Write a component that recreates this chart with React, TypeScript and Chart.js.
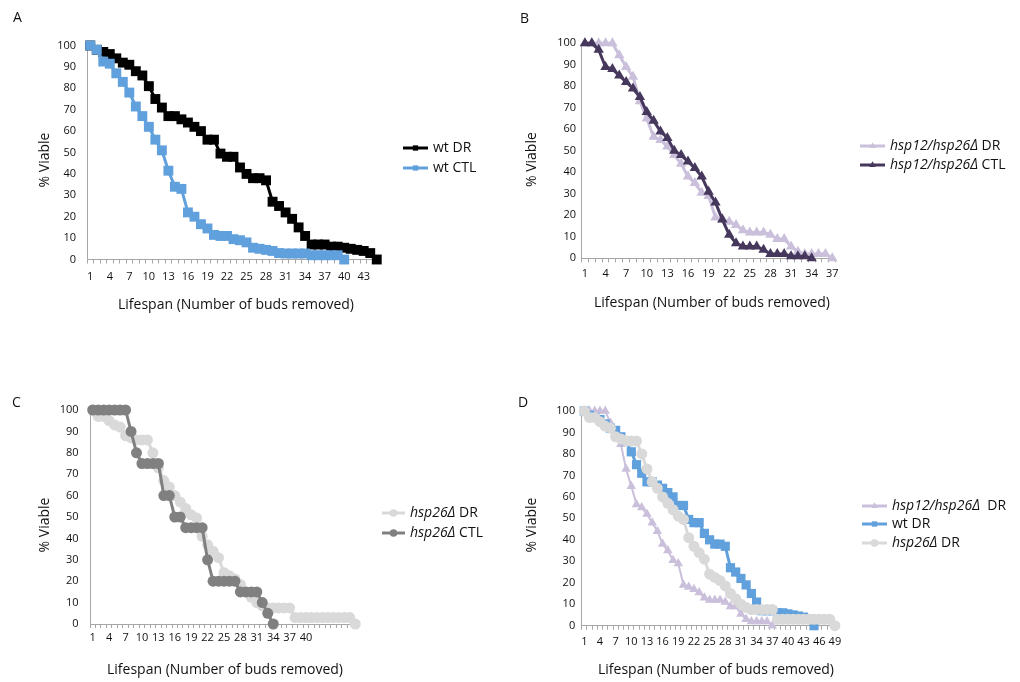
import React, { useEffect, useRef } from "react";
import { Chart, registerables } from "chart.js";

Chart.register(...registerables);

// ---------- data ----------
const budsA = ["1","2","3","4","5","6","7","8","9","10","11","12","13","14","15","16","17","18","19","20","21","22","23","24","25","26","27","28","29","30","31","32","33","34","35","36","37","38","39","40","41","42","43","44","45"];
const budsB = ["1","2","3","4","5","6","7","8","9","10","11","12","13","14","15","16","17","18","19","20","21","22","23","24","25","26","27","28","29","30","31","32","33","34","35","36","37"];
const budsCD = ["1","2","3","4","5","6","7","8","9","10","11","12","13","14","15","16","17","18","19","20","21","22","23","24","25","26","27","28","29","30","31","32","33","34","35","36","37","38","39","40","41","42","43","44","45","46","47","48","49"];

const ticksA = ["1","4","7","10","13","16","19","22","25","28","31","34","37","40","43"];
const ticksB = ["1","4","7","10","13","16","19","22","25","28","31","34","37"];
const ticksC = ["1","4","7","10","13","16","19","22","25","28","31","34","37","40"];
const ticksD = ["1","4","7","10","13","16","19","22","25","28","31","34","37","40","43","46","49"];

const wtDR = [100,98,97,96,94,92,91,88,86,81, 75,71,67,67,65.5,64,62,60,56,56, 49.5,48,48,43,40,38,38,37,27,25, 22,19,15,11,7,7,7,6,6,5.5, 5,4.5,4,3,0];
const wtCTL = [100,98,92.5,91.5,87,83,78,71.5,67,62, 56,51,41.5,34,33,22,20,16.5,14.5,11.5, 11,11,9.5,9,8,5.5,5,4.5,4,3, 2.8,2.8,2.8,2.8,2,2,2,2,2,0];
const hsp12DR = [100,100,100,100,100,94.5,89,84.5,73,65, 56.5,55,52,48,44,38,35,30.5,29,19, 18,17,15.5,13,12,12,12,11,9,9, 5.5,3,2,2,2,2,0];
const hsp12CTL = [100,100,97,89,88,85,82,79,75,68, 64,59,56,50,48,45,42,38,31,26, 18,11,7,5.5,5.5,5.5,4,2,2,2, 1,1,1,0];
const hsp26DR = [100,97,97,95,93,92,88,87,86,86, 86,80,73,67,64,60,57,54,51,49.5, 41,37,34,31,24,22.5,21,18.5,15,12.5, 10,8.5,7.5,7.5,7.5,7.5,7.5,3,3,3, 3,3,3,3,3,3,3,3,0];
const hsp26CTL = [100,100,100,100,100,100,100,90,80,75, 75,75,75,60,60,50,50,45,45,45, 45,30,20,20,20,20,20,15,15,15, 15,10,5,0];

// ---------- styles ----------
const FONT = '"Open Sans", sans-serif';
const TEXT = "#111111";
const AXIS = "#a6a6a6";
const BLACK = "#000000";
const BLUE = "#60a0dc";
const LAV = "#cbc0dc";
const PURPLE = "#46385c";
const LGRAY = "#d9d9d9";
const DGRAY = "#808080";
const X_TITLE = "Lifespan (Number of buds removed)";
const Y_TITLE = "% Viable";
const W = 1020, H = 682, YW = 40, XH = 30;

type Part = { t: string; i?: boolean };
type Series = { parts: Part[]; data: number[]; color: string; style: string; r: number; lw: number; order: number };
type Panel = {
  key: string; letter: string; letterX: number; letterY: number;
  labels: string[]; shown: string[];
  area: { l: number; r: number; t: number; b: number };
  xPad: number; yPad: number;
  xTitle: [number, number]; yTitle: [number, number];
  leg: { x1: number; x2: number; tx: number; ys: number[] };
  series: Series[];
};

const panels: Panel[] = [
  {
    key: "A", letter: "A", letterX: 13, letterY: 18,
    labels: budsA, shown: ticksA,
    area: { l: 87, r: 380, t: 45.5, b: 259.5 }, xPad: 7, yPad: 11,
    xTitle: [236, 305], yTitle: [45, 160],
    leg: { x1: 403, x2: 428, tx: 433, ys: [148, 168] },
    series: [
      { parts: [{ t: "wt DR" }], data: wtDR, color: BLACK, style: "rect", r: 7, lw: 3, order: 2 },
      { parts: [{ t: "wt CTL" }], data: wtCTL, color: BLUE, style: "rect", r: 7, lw: 3, order: 1 },
    ],
  },
  {
    key: "B", letter: "B", letterX: 520, letterY: 19,
    labels: budsB, shown: ticksB,
    area: { l: 581.5, r: 835.7, t: 43.3, b: 258.3 }, xPad: 4.5, yPad: 5.5,
    xTitle: [712, 303.5], yTitle: [532, 159.6],
    leg: { x1: 860, x2: 885, tx: 890, ys: [146, 165] },
    series: [
      { parts: [{ t: "hsp12/hsp26Δ", i: true }, { t: " DR" }], data: hsp12DR, color: LAV, style: "triangle", r: 6, lw: 3, order: 2 },
      { parts: [{ t: "hsp12/hsp26Δ", i: true }, { t: " CTL" }], data: hsp12CTL, color: PURPLE, style: "triangle", r: 6, lw: 3, order: 1 },
    ],
  },
  {
    key: "C", letter: "C", letterX: 12, letterY: 403.5,
    labels: budsCD, shown: ticksC,
    area: { l: 90, r: 358, t: 410, b: 624 }, xPad: 3, yPad: 11.5,
    xTitle: [225, 670], yTitle: [45, 525],
    leg: { x1: 382, x2: 405, tx: 410, ys: [513, 533] },
    series: [
      { parts: [{ t: "hsp26Δ", i: true }, { t: " DR" }], data: hsp26DR, color: LGRAY, style: "circle", r: 5.5, lw: 3, order: 2 },
      { parts: [{ t: "hsp26Δ", i: true }, { t: " CTL" }], data: hsp26CTL, color: DGRAY, style: "circle", r: 5.5, lw: 3, order: 1 },
    ],
  },
  {
    key: "D", letter: "D", letterX: 518, letterY: 403.5,
    labels: budsCD, shown: ticksD,
    area: { l: 581.7, r: 837.5, t: 411, b: 625.7 }, xPad: 5.4, yPad: 6.5,
    xTitle: [716, 670], yTitle: [532, 525],
    leg: { x1: 862, x2: 887, tx: 892, ys: [506, 524, 543] },
    series: [
      { parts: [{ t: "hsp12/hsp26Δ", i: true }, { t: "  DR" }], data: hsp12DR, color: LAV, style: "triangle", r: 5.5, lw: 2, order: 3 },
      { parts: [{ t: "wt DR" }], data: wtDR, color: BLUE, style: "rect", r: 6.5, lw: 3, order: 2 },
      { parts: [{ t: "hsp26Δ", i: true }, { t: " DR" }], data: hsp26DR, color: LGRAY, style: "circle", r: 5.5, lw: 3, order: 1 },
    ],
  },
];

function drawMarker(ctx: CanvasRenderingContext2D, style: string, x: number, y: number, r: number) {
  ctx.beginPath();
  if (style === "rect") {
    ctx.rect(x - r * 0.7, y - r * 0.7, r * 1.4, r * 1.4);
  } else if (style === "triangle") {
    ctx.moveTo(x, y - r);
    ctx.lineTo(x + r * 0.866, y + r * 0.5);
    ctx.lineTo(x - r * 0.866, y + r * 0.5);
    ctx.closePath();
  } else {
    ctx.arc(x, y, r, 0, Math.PI * 2);
  }
  ctx.fill();
}

function annotPlugin(p: Panel) {
  return {
    id: "annot" + p.key,
    afterDraw(chart: any) {
      const ctx: CanvasRenderingContext2D = chart.ctx;
      ctx.save();
      ctx.fillStyle = TEXT;
      ctx.textBaseline = "middle";
      ctx.font = `14px ${FONT}`;
      ctx.textAlign = "left";
      ctx.fillText(p.letter, p.letterX, p.letterY);
      ctx.textAlign = "center";
      ctx.fillText(X_TITLE, p.xTitle[0], p.xTitle[1]);
      ctx.save();
      ctx.translate(p.yTitle[0], p.yTitle[1]);
      ctx.rotate(-Math.PI / 2);
      ctx.fillText(Y_TITLE, 0, 0);
      ctx.restore();
      // legend
      p.series.forEach((s, k) => {
        const y = p.leg.ys[k];
        ctx.strokeStyle = s.color;
        ctx.lineWidth = 3;
        ctx.beginPath();
        ctx.moveTo(p.leg.x1, y);
        ctx.lineTo(p.leg.x2, y);
        ctx.stroke();
        ctx.fillStyle = s.color;
        drawMarker(ctx, s.style, (p.leg.x1 + p.leg.x2) / 2, y, 3.8);
        ctx.fillStyle = TEXT;
        ctx.textAlign = "left";
        let x = p.leg.tx;
        s.parts.forEach((part) => {
          ctx.font = `${part.i ? "italic " : ""}14px ${FONT}`;
          ctx.fillText(part.t, x, y);
          x += ctx.measureText(part.t).width;
        });
      });
      ctx.restore();
    },
  };
}

function PanelChart({ p }: { p: Panel }) {
  const ref = useRef<HTMLCanvasElement | null>(null);
  useEffect(() => {
    if (!ref.current) return;
    const shown = p.shown;
    const chart = new Chart(ref.current, {
      type: "line",
      data: {
        labels: p.labels,
        datasets: p.series.map((s) => ({
          label: s.parts.map((x) => x.t).join(""),
          data: s.data,
          borderColor: s.color,
          backgroundColor: s.color,
          pointBackgroundColor: s.color,
          pointBorderColor: s.color,
          pointBorderWidth: 0,
          pointStyle: s.style as any,
          pointRadius: s.r,
          borderWidth: s.lw,
          tension: 0,
          order: s.order,
          clip: false as any,
        })),
      },
      options: {
        responsive: false,
        animation: false,
        events: [],
        layout: {
          padding: {
            left: p.area.l - YW,
            top: p.area.t,
            right: W - p.area.r,
            bottom: H - p.area.b - XH,
          },
        },
        plugins: { legend: { display: false }, tooltip: { enabled: false } },
        scales: {
          x: {
            type: "category",
            offset: true,
            grid: { display: true, drawOnChartArea: false, drawTicks: true, tickLength: 4, offset: true, color: AXIS },
            border: { display: true, color: AXIS, width: 1 },
            ticks: {
              autoSkip: false,
              maxRotation: 0,
              minRotation: 0,
              padding: p.xPad,
              color: TEXT,
              font: { family: FONT, size: 11 },
              callback: function (this: any, value: any) {
                const l = this.getLabelForValue(value);
                return shown.includes(l) ? l : "";
              },
            },
            afterFit: (s: any) => { s.height = XH; },
          },
          y: {
            min: 0,
            max: 100,
            grid: { display: false, drawTicks: false },
            border: { display: true, color: AXIS, width: 1 },
            ticks: { stepSize: 10, padding: p.yPad, color: TEXT, font: { family: FONT, size: 11 } },
            afterFit: (s: any) => { s.width = YW; },
          },
        },
      },
      plugins: [annotPlugin(p)],
    } as any);
    return () => chart.destroy();
  }, [p]);
  return (
    <canvas
      ref={ref}
      width={W}
      height={H}
      style={{ position: "absolute", left: 0, top: 0, width: W, height: H, pointerEvents: "none" }}
    />
  );
}

export default function App() {
  return (
    <div style={{ position: "absolute", left: 0, top: 0, width: W, height: H, background: "#fff" }}>
      {panels.map((p) => (
        <PanelChart key={p.key} p={p} />
      ))}
    </div>
  );
}
